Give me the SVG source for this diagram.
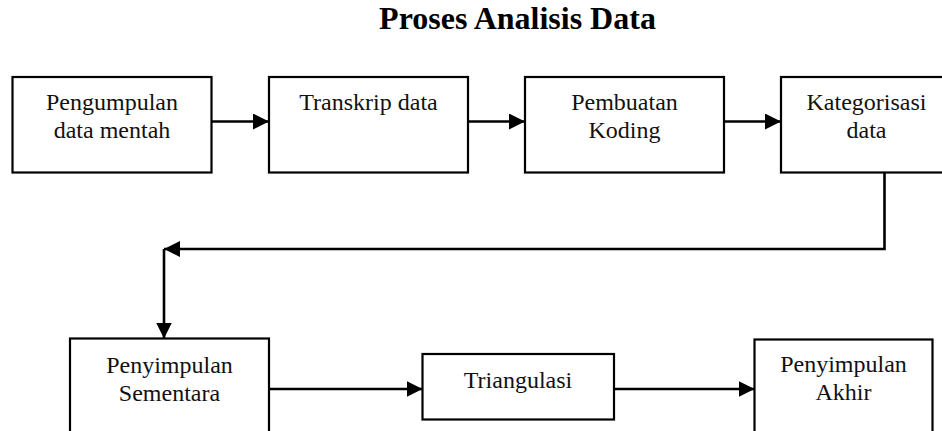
<svg xmlns="http://www.w3.org/2000/svg" width="942" height="431" viewBox="0 0 942 431">
  <style>
    .box { fill: #ffffff; stroke: #000000; stroke-width: 2.2; }
    .lbl { font-family: "Liberation Serif", "Times New Roman", serif; font-size: 24px; fill: #111111; text-anchor: middle; }
    .title { font-family: "Liberation Serif", "Times New Roman", serif; font-size: 32px; font-weight: bold; fill: #000000; text-anchor: middle; }
    .link { fill: none; stroke: #000000; stroke-width: 2.6; }
  </style>
  <defs>
    <marker id="arrow" markerUnits="userSpaceOnUse" markerWidth="17" markerHeight="17" refX="16" refY="8" orient="auto">
      <path d="M0,0 L16,8 L0,16 Z" fill="#000000"/>
    </marker>
  </defs>

  <rect width="942" height="431" fill="#ffffff"/>

  <text class="title" x="517.5" y="28.5">Proses Analisis Data</text>

  <!-- connectors -->
  <g id="connectors">
    <line class="link" x1="212" y1="121.5" x2="269" y2="121.5" marker-end="url(#arrow)"/>
    <line class="link" x1="468" y1="121.5" x2="525" y2="121.5" marker-end="url(#arrow)"/>
    <line class="link" x1="724" y1="121.5" x2="781" y2="121.5" marker-end="url(#arrow)"/>
    <polyline class="link" points="884.5,173 884.5,249 164,249" marker-end="url(#arrow)"/>
    <line class="link" x1="164" y1="249" x2="164" y2="338.5" marker-end="url(#arrow)"/>
    <line class="link" x1="269" y1="389" x2="422.5" y2="389" marker-end="url(#arrow)"/>
    <line class="link" x1="614" y1="389" x2="754.5" y2="389" marker-end="url(#arrow)"/>
  </g>

  <g id="pengumpulan">
    <rect class="box" x="12.5" y="77" width="199" height="95.5"/>
    <text class="lbl" x="112" y="110">Pengumpulan</text>
    <text class="lbl" x="112" y="138">data mentah</text>
  </g>

  <g id="transkrip">
    <rect class="box" x="269" y="77" width="199" height="95.5"/>
    <text class="lbl" x="368.5" y="109.5">Transkrip data</text>
  </g>

  <g id="koding">
    <rect class="box" x="525" y="77" width="199" height="95.5"/>
    <text class="lbl" x="624.5" y="110">Pembuatan</text>
    <text class="lbl" x="624.5" y="138">Koding</text>
  </g>

  <g id="kategorisasi">
    <rect class="box" x="781" y="77" width="171" height="95.5"/>
    <text class="lbl" x="866.5" y="110">Kategorisasi</text>
    <text class="lbl" x="866.5" y="138">data</text>
  </g>

  <g id="sementara">
    <rect class="box" x="70" y="338.5" width="199" height="100"/>
    <text class="lbl" x="169.5" y="373">Penyimpulan</text>
    <text class="lbl" x="169.5" y="400.5">Sementara</text>
  </g>

  <g id="triangulasi">
    <rect class="box" x="422.5" y="354" width="191.5" height="65.5"/>
    <text class="lbl" x="518" y="388">Triangulasi</text>
  </g>

  <g id="akhir">
    <rect class="box" x="754.5" y="339.5" width="178" height="100"/>
    <text class="lbl" x="843.5" y="372">Penyimpulan</text>
    <text class="lbl" x="843.5" y="399.5">Akhir</text>
  </g>
</svg>
